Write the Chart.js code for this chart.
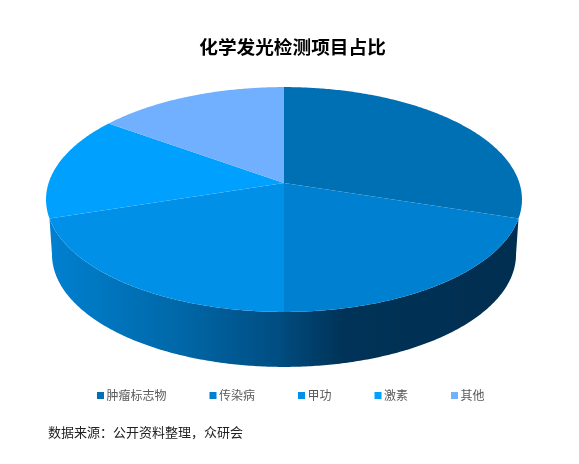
<!DOCTYPE html>
<html><head><meta charset="utf-8">
<style>html,body{margin:0;padding:0;background:#fff}#wrap{width:579px;height:464px}</style>
<script src="https://cdn.jsdelivr.net/npm/chart.js@4"></script>
</head><body><div id="wrap"><canvas id="c" width="579" height="464"></canvas></div>
<script>
const categories = ['肿瘤标志物','传染病','甲功','激素','其他'];
const shares = [30,20,20,15,15];
const sliceColors = ['#0070b4','#0080d0','#0090e8','#00a0ff','#70b0ff'];
const titleText = '化学发光检测项目占比';
const sourceText = '数据来源：公开资料整理，众研会';
const FONT = '"Noto Sans CJK SC","Noto Sans",sans-serif';

// projection of the pie's unit circle (perspective tilt)
const K = 0.1467;
const TANGENT = Math.asin(K);
const topFace = {cx:284, cy:183, bx:235.4, ay:110};
const baseFace = {cx:284, cy:238, bx:229.5, ay:110};
function project(face, angle){
  const u=Math.cos(angle), v=Math.sin(angle), w=1-K*v;
  return [face.cx+face.bx*u/w, face.cy+face.ay*v/w];
}
function edge(face,a0,a1){
  const n=Math.max(2,Math.ceil(Math.abs(a1-a0)/0.01)), pts=[];
  for(let i=0;i<=n;i++) pts.push(project(face,a0+(a1-a0)*i/n));
  return pts;
}
const pie3d = {
  id:'pie3d',
  beforeDatasetDraw(chart){
    const ctx=chart.ctx, arcs=chart.getDatasetMeta(0).data;
    ctx.save();
    // wall: only slices facing the viewer
    const facing=arcs.filter(arc=>Math.sin((arc.startAngle+arc.endAngle)/2)>=0.5);
    facing.forEach((arc,i)=>{
      const dir=Math.cos((arc.startAngle+arc.endAngle)/2)<0?1:0;
      const g=ctx.createLinearGradient(dir?50:284,0,dir?284:520,0);
      if(dir){g.addColorStop(0,'#0080d0');g.addColorStop(0.55,'#0068a8');g.addColorStop(1,'#004c80');}
      else{g.addColorStop(0,'#004a7c');g.addColorStop(0.25,'#003358');g.addColorStop(1,'#002e50');}
      const baseStart=i===0?TANGENT:arc.startAngle;
      const baseEnd=i===facing.length-1?Math.PI-TANGENT:arc.endAngle;
      const a=edge(topFace,arc.startAngle,arc.endAngle), b=edge(baseFace,baseEnd,baseStart);
      ctx.beginPath();
      a.concat(b).forEach((p,j)=>j?ctx.lineTo(p[0],p[1]):ctx.moveTo(p[0],p[1]));
      ctx.closePath();ctx.fillStyle=g;ctx.fill();
    });
    // lid
    arcs.forEach(arc=>{
      ctx.beginPath();
      ctx.moveTo(topFace.cx,topFace.cy);
      edge(topFace,arc.startAngle,arc.endAngle).forEach(p=>ctx.lineTo(p[0],p[1]));
      ctx.closePath();
      ctx.fillStyle=arc.options.backgroundColor;ctx.fill();
    });
    ctx.restore();
    return false;
  }
};
new Chart(document.getElementById('c'),{
  type:'pie',
  plugins:[pie3d],
  data:{labels:categories,datasets:[{data:shares,backgroundColor:sliceColors,borderWidth:0}]},
  options:{
    responsive:false,animation:false,
    layout:{padding:{top:0,bottom:24,left:48,right:42}},
    plugins:{
      title:{display:true,text:titleText,color:'#000',font:{family:FONT,size:18.67,weight:'bold'},padding:{top:36,bottom:10}},
      subtitle:{display:true,position:'bottom',align:'start',text:sourceText,color:'#222',font:{family:FONT,size:13},padding:{top:13,bottom:0}},
      legend:{position:'bottom',labels:{usePointStyle:true,pointStyle:'rect',boxWidth:0.01,boxHeight:7,padding:46.5,color:'#595959',font:{family:FONT,size:12}}},
      tooltip:{enabled:false}
    }
  }
});
</script></body></html>
